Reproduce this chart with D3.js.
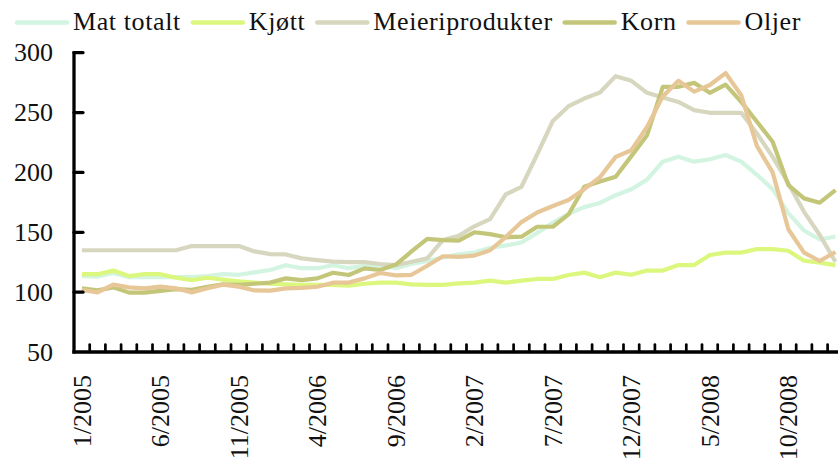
<!DOCTYPE html>
<html>
<head>
<meta charset="utf-8">
<script src="https://cdn.jsdelivr.net/npm/d3@7/dist/d3.min.js"></script>
<style>
  html, body { margin: 0; padding: 0; background: #fff; }
  svg { display: block; }
  svg text { font-family: "Liberation Serif", "DejaVu Serif", serif; }
</style>
</head>
<body>
<svg id="chart" width="838" height="462"></svg>
<script>
// Monthly price indices, 1/2005 – 1/2009
const months = [];
for (let y = 2005; y <= 2009; y++) {
  for (let m = 1; m <= 12; m++) {
    if (y === 2009 && m > 1) break;
    months.push(m + "/" + y);
  }
}

const matTotalt = [113.5, 113, 116, 112.5, 112.5, 112.5, 112.5, 112.5, 113.5, 115, 114.5, 116.5,
  118.5, 122.5, 120, 120, 122.5, 120, 122, 122, 120, 123.5, 126, 129,
  131.5, 133, 137, 139, 141.5, 149.5, 158, 165.5, 171, 174.5, 181, 186,
  194, 209, 213, 209, 211, 214.5, 209, 198, 186, 166, 151.5, 144, 146.5];

const kjott = [115, 115, 118, 113.5, 115, 115, 112, 110, 112, 110.5, 109, 108,
  107, 106.5, 106, 106, 106, 105.5, 107, 108, 108, 106.5, 106, 106,
  107.3, 108, 109.6, 108, 109.6, 111, 111, 114.3, 116.3, 112.5, 116.3, 114.5,
  118, 118, 122.6, 122.6, 131, 133, 133, 136, 136, 134.6, 126.2, 124.6, 122.6];

const meieri = [135, 135, 135, 135, 135, 135, 135, 138.5, 138.5, 138.5, 138.5, 134,
  131.8, 131.5, 128.2, 126.8, 125.5, 125, 125, 123.5, 122.5, 125.4, 128.2, 143.5,
  147, 155, 161, 181.6, 188, 215, 243, 255.3, 261.7, 266.7, 280.4, 276.5,
  266.5, 262.6, 258.9, 252, 249.8, 249.8, 249.8, 232.5, 213, 190.8, 167.1, 147.7, 125.4];

const korn = [103.2, 101.5, 104, 99.6, 99.6, 101, 102.5, 102, 104.5, 106.5, 106, 107,
  108, 111.5, 110, 111.5, 116.2, 114.3, 119.8, 118.5, 123, 134, 144.5, 143.5,
  143, 150, 148.5, 145.8, 146.3, 154.6, 154.6, 164.9, 188, 192.5, 196.4, 213.6,
  231.1, 271.5, 271.5, 274.8, 266.5, 273.4, 258.9, 242.3, 225.6, 189.4, 178.3, 174.7, 185.2];

const oljer = [101.8, 99.8, 106.3, 104, 103.2, 104.6, 103.2, 99.8, 103.2, 106.3, 104.6, 101.4,
  101.3, 103.2, 103.5, 104.5, 107.9, 108, 111.5, 116, 114, 114.5, 122, 130,
  129.5, 130.5, 135, 146, 158.5, 166.5, 172, 177, 186, 196, 213, 218.5,
  238, 263.5, 276.5, 267.5, 273, 283, 264.5, 222, 200, 152.5, 133, 126, 133.5];

const yTicks = [50, 100, 150, 200, 250, 300];
const labelEvery = 5;

const series = [
  { name: "Mat totalt", values: matTotalt, color: "#d3f4e1" },
  { name: "Kjøtt", values: kjott, color: "#dcf77d" },
  { name: "Meieriprodukter", values: meieri, color: "#d7d7bf" },
  { name: "Korn", values: korn, color: "#c3c679" },
  { name: "Oljer", values: oljer, color: "#e7c797" }
];

const svg = d3.select("#chart");
const step = 15.7;
const x0 = 74;

const x = d3.scaleBand()
  .domain(months)
  .range([x0, x0 + months.length * step])
  .paddingInner(0).paddingOuter(0);

const y = d3.scaleLinear().domain([50, 300]).range([352, 52.7]);

const cx = m => x(m) + x.bandwidth() / 2;

// Lines
const line = d3.line()
  .x((d, i) => cx(months[i]))
  .y(d => y(d));

svg.append("g").selectAll("path")
  .data(series)
  .join("path")
  .attr("d", s => line(s.values))
  .attr("fill", "none")
  .attr("stroke", s => s.color)
  .attr("stroke-width", 4.2)
  .attr("stroke-linejoin", "round");

// Y axis
const yAxis = svg.append("g");
yAxis.append("line")
  .attr("x1", x0).attr("x2", x0)
  .attr("y1", y(300) - 1.5).attr("y2", y(50) + 1.6)
  .attr("stroke", "#000").attr("stroke-width", 3.3);
yAxis.selectAll("line.tick")
  .data(yTicks.filter(v => v > 50))
  .join("line")
  .attr("class", "tick")
  .attr("x1", x0).attr("x2", x0 + 9)
  .attr("y1", d => y(d)).attr("y2", d => y(d))
  .attr("stroke", "#000").attr("stroke-width", 3.2)
  .attr("stroke-linecap", "round");
yAxis.selectAll("text")
  .data(yTicks)
  .join("text")
  .attr("x", 53)
  .attr("y", d => y(d) + 8.5)
  .attr("text-anchor", "end")
  .attr("font-size", 26)
  .attr("fill", "#111")
  .text(d => d);

// X axis
const xAxis = svg.append("g");
xAxis.append("line")
  .attr("x1", x0 - 1.6).attr("x2", 838)
  .attr("y1", y(50)).attr("y2", y(50))
  .attr("stroke", "#000").attr("stroke-width", 3.3);
xAxis.selectAll("line.tick")
  .data(months.slice(1))
  .join("line")
  .attr("class", "tick")
  .attr("x1", m => x(m)).attr("x2", m => x(m))
  .attr("y1", y(50)).attr("y2", y(50) - 7.5)
  .attr("stroke", "#000").attr("stroke-width", 2.7)
  .attr("stroke-linecap", "round");
xAxis.selectAll("text")
  .data(months.filter((m, i) => i % labelEvery === 0))
  .join("text")
  .attr("transform", m => `translate(${cx(m)},375) rotate(-90)`)
  .attr("dy", "0.35em")
  .attr("text-anchor", "end")
  .attr("font-size", 26)
  .attr("fill", "#111")
  .text(m => m);

// Legend
const legend = svg.append("g");
let lx = 17;
series.forEach(s => {
  legend.append("line")
    .attr("x1", lx).attr("x2", lx + 50)
    .attr("y1", 22.5).attr("y2", 22.5)
    .attr("stroke", s.color).attr("stroke-width", 4.5)
    .attr("stroke-linecap", "round");
  const t = legend.append("text")
    .attr("x", lx + 56)
    .attr("y", 29.5)
    .attr("font-size", 26)
    .attr("letter-spacing", 0.6)
    .attr("fill", "#111")
    .text(s.name);
  lx = lx + 56 + t.node().getComputedTextLength() + 12;
});
</script>
</body>
</html>
